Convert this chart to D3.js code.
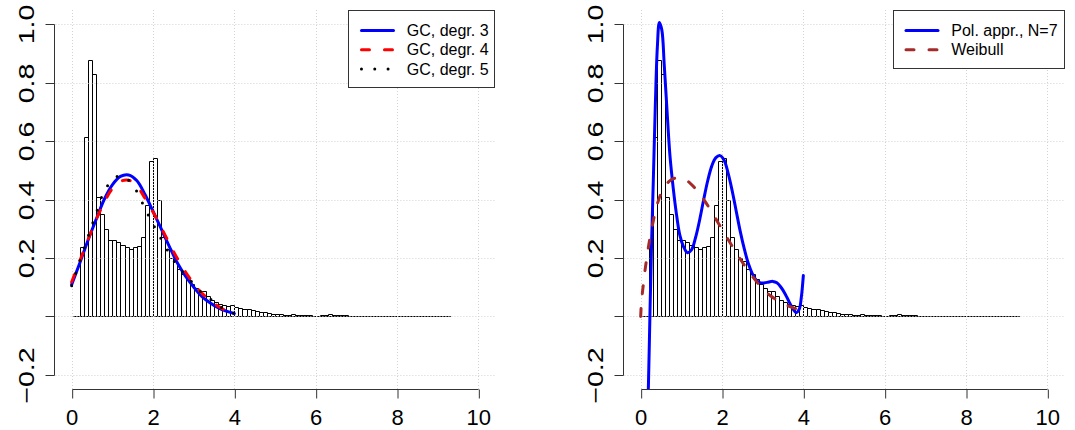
<!DOCTYPE html>
<html>
<head>
<meta charset="utf-8">
<script src="https://cdn.jsdelivr.net/npm/d3@7"></script>
<style>
  html, body { margin: 0; padding: 0; background: #fff; }
  svg { display: block; font-family: "Liberation Sans", Arial, Helvetica, sans-serif; }
</style>
</head>
<body>
<svg id="chart" width="1075" height="430"></svg>
<script>
// Histogram of the sample: density per bin, bins of width 0.1 starting at 0
const binStart = 0;
const binWidth = 0.1;
const density = [
  0.000, 0.003, 0.238, 0.615, 0.877, 0.829, 0.407, 0.349, 0.298, 0.263,
  0.262, 0.255, 0.245, 0.237, 0.230, 0.236, 0.240, 0.272, 0.381, 0.530,
  0.543, 0.400, 0.272, 0.232, 0.200, 0.190, 0.163, 0.145, 0.127, 0.112,
  0.097, 0.088, 0.088, 0.070, 0.058, 0.048, 0.042, 0.040, 0.036, 0.040,
  0.032, 0.028, 0.027, 0.026, 0.021, 0.019, 0.016, 0.014, 0.012, 0.010,
  0.009, 0.007, 0.006, 0.006, 0.007, 0.005, 0.005, 0.004, 0.004, 0.003,
  0.003, 0.004, 0.005, 0.007, 0.006, 0.005, 0.005, 0.004, 0.003, 0.002,
  0.003, 0.003, 0.002, 0.002, 0.002, 0.002, 0.001, 0.001, 0.001, 0.001,
  0.001, 0.001, 0.001, 0.000, 0.000, 0.000, 0.000, 0.000, 0.000, 0.000,
  0.000, 0.000, 0.000
];

// Axis ticks
const xTicks = [0, 2, 4, 6, 8, 10];
const yTicks = [-0.2, 0, 0.2, 0.4, 0.6, 0.8, 1.0];
const yTickLabels = ["\u22120.2", "", "0.2", "0.4", "0.6", "0.8", "1.0"];

// Gram–Charlier approximations, evaluated on 0..4
const gcX  = [0, 0.2, 0.4, 0.6, 0.8, 1.0, 1.2, 1.4, 1.6, 1.8, 2.0, 2.2, 2.4, 2.6, 2.8, 3.0, 3.2, 3.4, 3.6, 3.8, 4.0];
const gc3Y = [0.109, 0.183, 0.260, 0.331, 0.400, 0.450, 0.479, 0.484, 0.465, 0.418, 0.360, 0.300, 0.240, 0.183, 0.138, 0.101, 0.069, 0.047, 0.030, 0.018, 0.010];
const gc4Y = [0.118, 0.190, 0.262, 0.330, 0.390, 0.437, 0.462, 0.466, 0.447, 0.405, 0.357, 0.305, 0.250, 0.198, 0.152, 0.113, 0.080, 0.056, 0.035, 0.020, 0.010];
const gc5Y = [0.105, 0.190, 0.272, 0.352, 0.428, 0.466, 0.482, 0.466, 0.428, 0.370, 0.316, 0.265, 0.216, 0.173, 0.141, 0.111, 0.081, 0.061, 0.038, 0.022, 0.010];

// Polynomial approximation, N = 7
const polyX = [0.16, 0.19, 0.23, 0.27, 0.31, 0.36, 0.41, 0.46, 0.52, 0.58, 0.65, 0.72, 0.80, 0.88, 0.96, 1.05, 1.15, 1.25, 1.35, 1.45, 1.55, 1.65, 1.75, 1.85, 1.95, 2.05, 2.15, 2.25, 2.35, 2.45, 2.55, 2.65, 2.75, 2.85, 2.95, 3.05, 3.15, 3.25, 3.35, 3.45, 3.55, 3.65, 3.75, 3.82, 3.90, 3.95, 4.00];
const polyY = [-0.35, -0.24, 0.02, 0.26, 0.46, 0.72, 0.92, 1.005, 0.98, 0.86, 0.70, 0.55, 0.44, 0.35, 0.28, 0.24, 0.218, 0.228, 0.27, 0.33, 0.40, 0.465, 0.515, 0.543, 0.550, 0.535, 0.49, 0.43, 0.36, 0.29, 0.23, 0.18, 0.145, 0.123, 0.115, 0.115, 0.118, 0.120, 0.115, 0.100, 0.078, 0.050, 0.025, 0.013, 0.025, 0.065, 0.14];

// Fitted Weibull density
const weibX = [0, 0.02, 0.05, 0.1, 0.15, 0.2, 0.3, 0.4, 0.5, 0.6, 0.7, 0.8, 0.9, 1.0, 1.1, 1.2, 1.4, 1.6, 1.8, 2.0, 2.2, 2.4, 2.6, 2.8, 3.0, 3.2, 3.4, 3.6, 3.8, 3.9];
const weibY = [0, 0.05, 0.09, 0.15, 0.20, 0.245, 0.32, 0.38, 0.42, 0.445, 0.462, 0.471, 0.474, 0.472, 0.467, 0.458, 0.428, 0.390, 0.345, 0.298, 0.252, 0.207, 0.165, 0.128, 0.095, 0.070, 0.052, 0.038, 0.027, 0.022];

const leftLabels  = ["GC, degr. 3", "GC, degr. 4", "GC, degr. 5"];
const rightLabels = ["Pol. appr., N=7", "Weibull"];

// ---- layout ----
const svg = d3.select("#chart");
const plotL = 55.4, plotR = 494.6, plotT = 10, plotB = 389;
const panelShift = 569;
const x = d3.scaleLinear().domain([-0.4, 10.4]).range([plotL, plotR]);
const y = d3.scaleLinear().domain([-0.248, 1.048]).range([plotB, plotT]);
const snap = v => Math.round(v) + 0.5;
const FONT = '"Liberation Sans", Arial, Helvetica, sans-serif';

const styles = {
  solidBlue:   { color: "#0000ff", dash: null,     cap: "round" },
  dashRed:     { color: "#ff0000", dash: "8 15",   cap: "round" },
  dotBlack:    { color: "#000000", dash: "0 13.3", cap: "round" },
  dashBrown:   { color: "#a52a2a", dash: "8 15",   cap: "round" }
};

const zip = (xs, ys) => xs.map((v, i) => [v, ys[i]]);

function drawPanel(offset, clipId, series, labels) {
  const g = svg.append("g").attr("transform", `translate(${offset},0)`);

  g.append("clipPath").attr("id", clipId)
    .append("rect")
    .attr("x", plotL).attr("y", plotT)
    .attr("width", plotR - plotL).attr("height", plotB - plotT);

  // histogram bars
  g.append("g").selectAll("path").data(density).join("path")
    .attr("d", (d, i) => {
      const x0 = snap(x(binStart + i * binWidth));
      const x1 = snap(x(binStart + (i + 1) * binWidth));
      const y0 = snap(y(0));
      const y1 = snap(y(d));
      return `M${x0},${y0}V${y1}H${x1}V${y0}Z`;
    })
    .attr("fill", "none")
    .attr("stroke", "#000")
    .attr("stroke-width", 1);

  // dotted grid on top of the bars
  const grid = g.append("g")
    .attr("stroke", "#d3d3d3")
    .attr("stroke-width", 1)
    .attr("stroke-dasharray", "1 2");
  grid.selectAll("line.v").data(xTicks).join("line").attr("class", "v")
    .attr("x1", d => snap(x(d))).attr("x2", d => snap(x(d)))
    .attr("y1", plotT).attr("y2", plotB);
  grid.selectAll("line.h").data(yTicks).join("line").attr("class", "h")
    .attr("x1", plotL).attr("x2", plotR)
    .attr("y1", d => snap(y(d))).attr("y2", d => snap(y(d)));

  // density curves
  const line = d3.line()
    .x(d => x(d[0])).y(d => y(d[1]))
    .curve(d3.curveCatmullRom.alpha(0.5));
  const curves = g.append("g").attr("clip-path", `url(#${clipId})`);
  series.forEach(s => {
    curves.append("path")
      .attr("d", line(s.points))
      .attr("fill", "none")
      .attr("stroke", s.style.color)
      .attr("stroke-width", 3)
      .attr("stroke-linecap", s.style.cap)
      .attr("stroke-linejoin", "round")
      .attr("stroke-dasharray", s.style.dash);
  });

  // x axis
  const xa = g.append("g")
    .attr("transform", `translate(0,${snap(plotB)})`)
    .call(d3.axisBottom(x).tickValues(xTicks).tickSize(9).tickSizeOuter(0).tickFormat(d3.format("d")));
  xa.select(".domain").attr("d", `M${snap(x(xTicks[0]))},0H${snap(x(xTicks[xTicks.length - 1]))}`).attr("stroke", "#333");
  xa.selectAll(".tick line").attr("stroke", "#333").attr("x1", 0.5).attr("x2", 0.5);
  xa.selectAll(".tick text")
    .attr("y", 35).attr("dy", 0)
    .attr("fill", "#000")
    .attr("font-size", 22)
    .attr("font-family", FONT);

  // y axis, labels parallel to the axis
  const ya = g.append("g")
    .attr("transform", `translate(${snap(plotL) - 1},0)`)
    .call(d3.axisLeft(y).tickValues(yTicks).tickSize(9).tickSizeOuter(0).tickFormat((d, i) => yTickLabels[i]));
  ya.select(".domain").attr("d", `M0,${snap(y(yTicks[0]))}V${snap(y(yTicks[yTicks.length - 1]))}`).attr("stroke", "#333");
  ya.selectAll(".tick").attr("transform", d => `translate(0,${snap(y(d))})`);
  ya.selectAll(".tick line").attr("stroke", "#333");
  ya.selectAll(".tick text")
    .attr("transform", "rotate(-90) scale(1.3,1)")
    .attr("x", 0).attr("y", -21).attr("dy", 0)
    .attr("text-anchor", "middle")
    .attr("fill", "#000")
    .attr("font-size", 22)
    .attr("font-family", FONT);

  // legend in the top-right corner of the plot region
  const lg = g.append("g");
  const box = lg.append("rect");
  const texts = labels.map((t, i) => lg.append("text")
    .text(t)
    .attr("font-size", 16)
    .attr("font-family", FONT)
    .attr("fill", "#000"));
  const textW = d3.max(texts, t => t.node().getComputedTextLength());
  const boxRight = plotR;
  const boxLeft = boxRight - 6 - textW - 13.3 - 32 - 13.3;
  const rowH = 19.2;
  const boxH = rowH * labels.length + 19.8;
  box.attr("x", snap(boxLeft)).attr("y", snap(plotT))
    .attr("width", Math.round(boxRight - boxLeft)).attr("height", Math.round(boxH))
    .attr("fill", "#fff").attr("stroke", "#333").attr("stroke-width", 1);
  labels.forEach((t, i) => {
    const cy = plotT + 20.6 + rowH * i;
    const st = series[i].style;
    lg.append("line")
      .attr("x1", boxLeft + 13.3).attr("x2", boxLeft + 45.3)
      .attr("y1", cy).attr("y2", cy)
      .attr("stroke", st.color).attr("stroke-width", 3)
      .attr("stroke-linecap", st.cap)
      .attr("stroke-dasharray", st.dash);
    texts[i].attr("x", boxLeft + 58.6).attr("y", cy + 5.6);
  });
}

drawPanel(0, "clipLeft", [
  { points: zip(gcX, gc3Y), style: styles.solidBlue },
  { points: zip(gcX, gc4Y), style: styles.dashRed },
  { points: zip(gcX, gc5Y), style: styles.dotBlack }
], leftLabels);

drawPanel(panelShift, "clipRight", [
  { points: zip(polyX, polyY), style: styles.solidBlue },
  { points: zip(weibX, weibY), style: styles.dashBrown }
], rightLabels);
</script>
</body>
</html>
